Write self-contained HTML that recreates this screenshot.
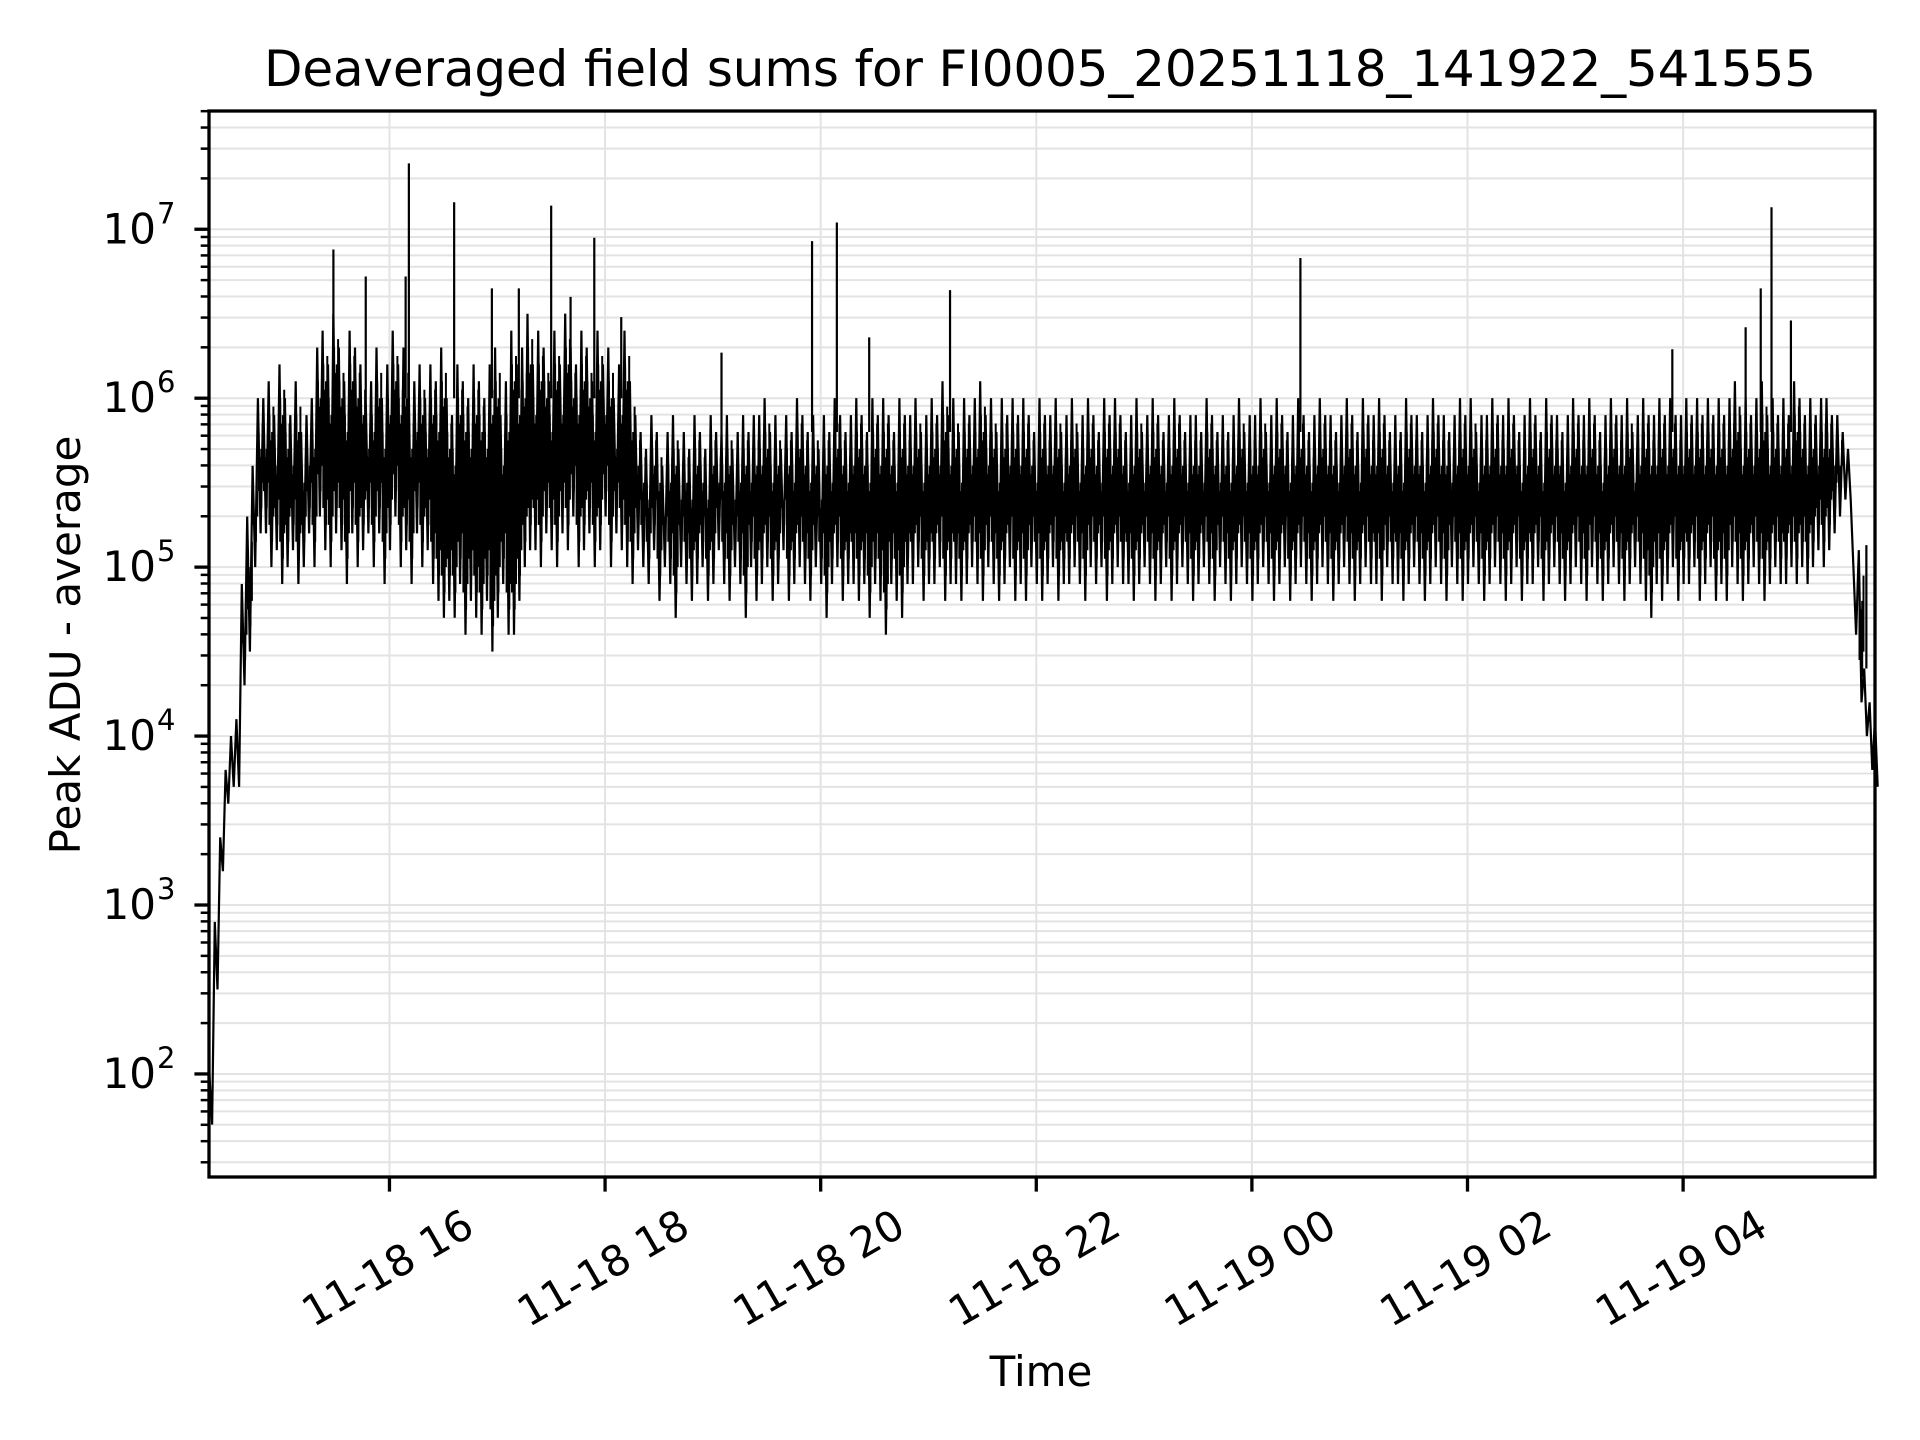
<!DOCTYPE html>
<html><head><meta charset="utf-8"><style>
html,body{margin:0;padding:0;background:#fff;}
svg{display:block;font-family:"DejaVu Sans","Liberation Sans",sans-serif;}
</style></head><body>
<svg id="chart" width="1920" height="1440" viewBox="0 0 1920 1440" xmlns="http://www.w3.org/2000/svg">
<rect x="0" y="0" width="1920" height="1440" fill="#fff"/>
<text x="1040" y="86" font-size="50" text-anchor="middle" textLength="1552">Deaveraged field sums for FI0005_20251118_141922_541555</text>
<g id="grid"></g>
<g id="series"></g>
<g id="axes"></g>
<text x="1041" y="1386" font-size="42" text-anchor="middle">Time</text>
<text x="0" y="0" font-size="42" text-anchor="middle" transform="translate(80,645) rotate(-90)">Peak ADU - average</text>
</svg>
<script>
// ---- data ----
const tStart = 14.33;          // hours (11-18 14:20)
const binHours = 0.05;         // 3-minute bins
const binMax = [2.0,2.9,3.4,3.8,4.0,4.1,4.9,5.3,5.6,6.0,
6.0,6.1,5.9,6.2,6.0,5.9,6.1,5.8,5.9,6.0,
6.3,6.4,6.2,6.5,6.3,6.1,6.4,6.3,6.2,6.0,
6.1,6.3,6.0,6.2,6.4,6.2,6.3,6.0,6.1,6.2,
6.0,6.2,6.1,6.3,6.0,5.9,6.2,6.1,6.0,6.2,
6.1,6.0,6.2,6.3,5.9,6.1,6.4,6.2,6.3,6.5,
6.2,6.4,6.3,6.1,6.4,6.2,6.5,6.3,6.2,6.4,
6.3,6.1,6.4,6.2,6.3,6.0,6.2,6.4,6.1,5.9,
5.8,5.7,5.9,5.8,5.6,5.8,5.9,5.7,5.8,5.7,
5.9,5.8,5.7,5.9,5.8,5.8,5.9,5.7,5.8,5.9,
5.8,5.9,5.9,6.0,5.8,5.9,5.7,5.9,5.8,6.0,
5.9,5.8,5.9,5.7,5.9,5.8,6.0,5.9,5.8,5.9,
6.0,5.9,5.8,6.0,5.9,6.0,5.9,5.8,6.0,5.9,
5.9,6.0,5.8,5.9,6.0,5.9,6.1,5.9,6.0,5.8,
6.0,5.9,6.0,6.1,5.9,6.0,5.8,6.0,5.9,6.0,
5.9,6.0,5.9,5.8,6.0,5.9,5.9,6.0,5.8,5.9,
6.0,5.8,5.9,6.0,5.9,5.8,6.0,5.9,6.0,5.9,
5.8,5.9,6.0,5.8,5.9,6.0,5.9,5.8,5.9,6.0,
5.9,5.8,5.9,5.9,5.8,6.0,5.9,5.8,5.9,5.8,
5.9,6.0,5.8,5.9,5.9,6.0,5.8,5.9,6.0,5.9,
5.8,5.9,6.0,5.9,5.8,5.9,6.0,5.9,5.9,5.8,
5.9,6.0,5.9,5.8,6.0,5.9,5.9,6.0,5.9,5.8,
5.9,5.8,6.0,5.9,5.9,5.8,5.9,6.0,5.9,5.9,
5.8,5.9,6.0,5.9,6.0,5.8,5.9,5.9,6.0,5.9,
5.9,6.0,5.9,5.8,5.9,6.0,5.9,5.8,6.0,5.9,
5.9,5.8,5.9,6.0,5.9,5.9,6.0,5.9,5.8,5.9,
6.0,5.9,5.9,6.0,5.8,5.9,6.0,5.9,5.9,6.0,
5.9,6.0,5.9,5.9,6.0,5.9,6.0,5.9,6.0,5.9,
6.0,5.9,6.0,6.1,5.9,6.0,5.9,6.0,6.1,5.9,
6.0,5.9,6.0,5.9,6.1,6.0,5.9,6.0,5.9,6.0,
6.0,5.9,5.9,5.8,
5.7,5.0,5.1,4.4,4.2,4.1];
const binMin = [1.7,2.5,3.2,3.6,3.7,3.7,4.3,4.5,5.0,5.2,
5.2,5.0,5.1,4.9,5.0,5.1,4.9,5.0,5.2,5.0,
5.3,5.1,5.0,5.2,5.1,4.9,5.2,5.0,5.1,5.2,
5.0,5.2,4.9,5.1,5.3,5.0,5.1,4.9,5.2,5.0,
5.1,4.9,4.8,4.7,4.8,4.7,4.9,4.6,4.8,4.7,
4.6,4.8,4.5,4.7,4.9,4.6,4.6,4.8,5.0,5.1,
5.1,5.0,5.2,5.1,5.0,5.2,5.1,5.3,5.0,5.1,
5.2,5.0,5.1,5.3,5.0,5.2,5.1,5.0,4.9,5.1,
5.0,4.9,5.1,4.8,5.0,4.9,4.7,5.0,4.9,4.8,
4.9,5.0,4.8,4.9,5.1,4.9,4.8,5.0,4.9,4.7,
5.0,4.8,4.9,5.0,4.8,4.9,5.1,4.8,4.9,5.0,
4.9,4.8,5.0,4.9,4.7,4.9,5.0,4.8,4.9,4.9,
4.8,4.9,4.7,4.9,4.8,4.6,4.9,4.8,4.7,4.9,
4.9,5.0,4.8,4.9,4.9,5.0,4.8,4.9,4.9,4.8,
4.9,5.0,4.9,4.8,5.0,4.9,4.8,4.9,5.0,4.8,
4.9,4.8,5.0,4.9,4.8,4.9,5.0,4.8,4.9,4.9,
5.0,4.9,4.8,5.0,4.9,5.0,4.8,4.9,5.0,4.9,
4.9,4.8,4.9,5.0,4.9,4.8,4.9,5.0,4.8,4.9,
5.0,4.9,4.8,4.9,5.0,4.9,4.8,5.0,4.9,4.8,
4.9,5.0,4.9,4.8,4.9,5.0,4.9,4.8,4.9,5.0,
4.8,4.9,5.0,4.9,4.8,4.9,5.0,4.9,4.8,4.9,
5.0,4.9,4.8,4.9,5.0,4.9,4.9,4.8,5.0,4.9,
4.9,4.8,4.9,5.0,4.9,4.8,4.9,5.0,4.9,4.8,
5.0,4.9,4.8,4.9,5.0,4.9,4.8,4.9,5.0,4.9,
4.8,4.9,5.0,4.8,4.9,4.9,5.0,4.8,4.9,5.0,
4.9,4.8,4.9,5.0,4.9,4.8,5.0,4.9,4.8,4.9,
5.0,4.9,4.8,4.9,5.0,4.9,4.8,4.7,4.9,4.8,
4.9,5.0,4.8,4.9,4.9,5.0,4.8,4.9,5.0,4.8,
4.9,4.8,5.0,4.9,4.8,4.9,5.0,4.9,4.8,4.9,
5.0,4.9,4.9,5.0,4.9,5.0,4.9,5.0,5.1,5.0,
5.1,5.2,5.3,5.4,
5.4,4.6,4.2,4.0,3.8,3.7];
const spikeTimes = [15.48,15.78,16.15,16.18,16.6,16.95,17.2,17.5,17.68,17.9,18.15,19.08,19.92,20.15,20.45,21.2,24.45,27.9,28.58,28.72,28.82,29.0,29.7];
const spikeValues = [6.88,6.72,6.72,7.39,7.16,6.65,6.65,7.14,6.6,6.95,6.48,6.27,6.93,7.04,6.36,6.64,6.83,6.29,6.42,6.65,7.13,6.46,5.13];
const spikeBase = [6.0,6.0,6.0,6.0,6.0,6.0,6.0,6.0,6.0,6.0,6.0,5.8,5.8,5.8,5.8,5.8,5.8,5.8,5.8,5.8,5.8,5.8,4.4];
const xTickHours = [16,18,20,22,24,26,28];
const xTickLabels = ["11-18 16","11-18 18","11-18 20","11-18 22","11-19 00","11-19 02","11-19 04"];
const yTickExps = [2,3,4,5,6,7];

// ---- axes ----
const L=209,R=1875,T=111,B=1177;
const xMin=14.326,xMax=29.78,yMin=1.39,yMax=7.70;
const NS='http://www.w3.org/2000/svg';
function xs(h){return L+(h-xMin)/(xMax-xMin)*(R-L);}
function ys(lv){return B-(lv-yMin)/(yMax-yMin)*(B-T);}
function mk(tag,attrs,parent){const e=document.createElementNS(NS,tag);for(const k in attrs)e.setAttribute(k,attrs[k]);parent.appendChild(e);return e;}
const grid=document.getElementById('grid'),series=document.getElementById('series'),axes=document.getElementById('axes');

for(let d=1;d<=7;d++){
  for(let m=1;m<=9;m++){
    const lv=d+Math.log10(m);
    if(lv<yMin||lv>yMax)continue;
    const y=ys(lv);
    const g=mk('line',{x1:L,x2:R,y1:y,y2:y,stroke:'#e3e3e3','stroke-width':2},grid);
    
    
    const tk=mk('line',{x1:L-(m===1?14.6:8.3),x2:L,y1:y,y2:y,stroke:'#000','stroke-width':m===1?3.3:2.5},axes);
    
    
  }
}
yTickExps.forEach(e=>{
  const y=ys(e);
  const t=mk('text',{x:156,y:y+14,'font-size':42,'text-anchor':'end'},axes);
  t.textContent='10';
  
  
  const s=mk('text',{x:157,y:y-6,'font-size':29,'text-anchor':'start'},axes);
  s.textContent=String(e);
  
  
});
xTickHours.forEach((h,i)=>{
  const x=xs(h);
  const g=mk('line',{x1:x,x2:x,y1:T,y2:B,stroke:'#e3e3e3','stroke-width':2},grid);
  
  
  const tk=mk('line',{x1:x,x2:x,y1:B,y2:B+14.6,stroke:'#000','stroke-width':3.3},axes);
  
  
  const t=mk('text',{x:0,y:0,'font-size':42,'text-anchor':'middle','dominant-baseline':'central',transform:`translate(${x-2},1268) rotate(-30)`},axes);
  t.textContent=xTickLabels[i];
  
  
});

// series line: interleave bin max/min, plus per-bin range strokes
let pts=[];
let d='';
const offs=[0.125,0.375,0.625,0.875];
const trims=[[0.25,0.2],[0.35,0.35],[0.15,0.3],[0.3,0.15]];
for(let i=0;i<binMax.length;i++){
  const h0=tStart+i*binHours;
  pts.push(xs(h0).toFixed(1)+','+ys(binMax[i]).toFixed(1));
  pts.push(xs(h0+binHours/2).toFixed(1)+','+ys(binMin[i]).toFixed(1));
  offs.forEach((o,k)=>{
    const lo=Math.min(binMax[i],binMin[i])+trims[k][0], hi=Math.max(binMax[i],binMin[i])-trims[k][1];
    if(hi>lo){
      const x=xs(h0+binHours*o).toFixed(1);
      d+=`M${x},${ys(hi).toFixed(1)}V${ys(lo).toFixed(1)}`;
    }
  });
}
const fillPath=mk('path',{d:d,fill:'none',stroke:'#000','stroke-width':2},series);


const pl=mk('polyline',{points:pts.join(' '),fill:'none',stroke:'#000','stroke-width':2.2,'stroke-linejoin':'miter'},series);


spikeTimes.forEach((h,i)=>{
  const x=xs(h);
  const s=mk('line',{x1:x,x2:x,y1:ys(spikeBase[i]),y2:ys(spikeValues[i]),stroke:'#000','stroke-width':2.2},series);
  
  
});
const sp=mk('rect',{x:L,y:T,width:R-L,height:B-T,fill:'none',stroke:'#000','stroke-width':3.3},axes);


</script>
</body></html>
